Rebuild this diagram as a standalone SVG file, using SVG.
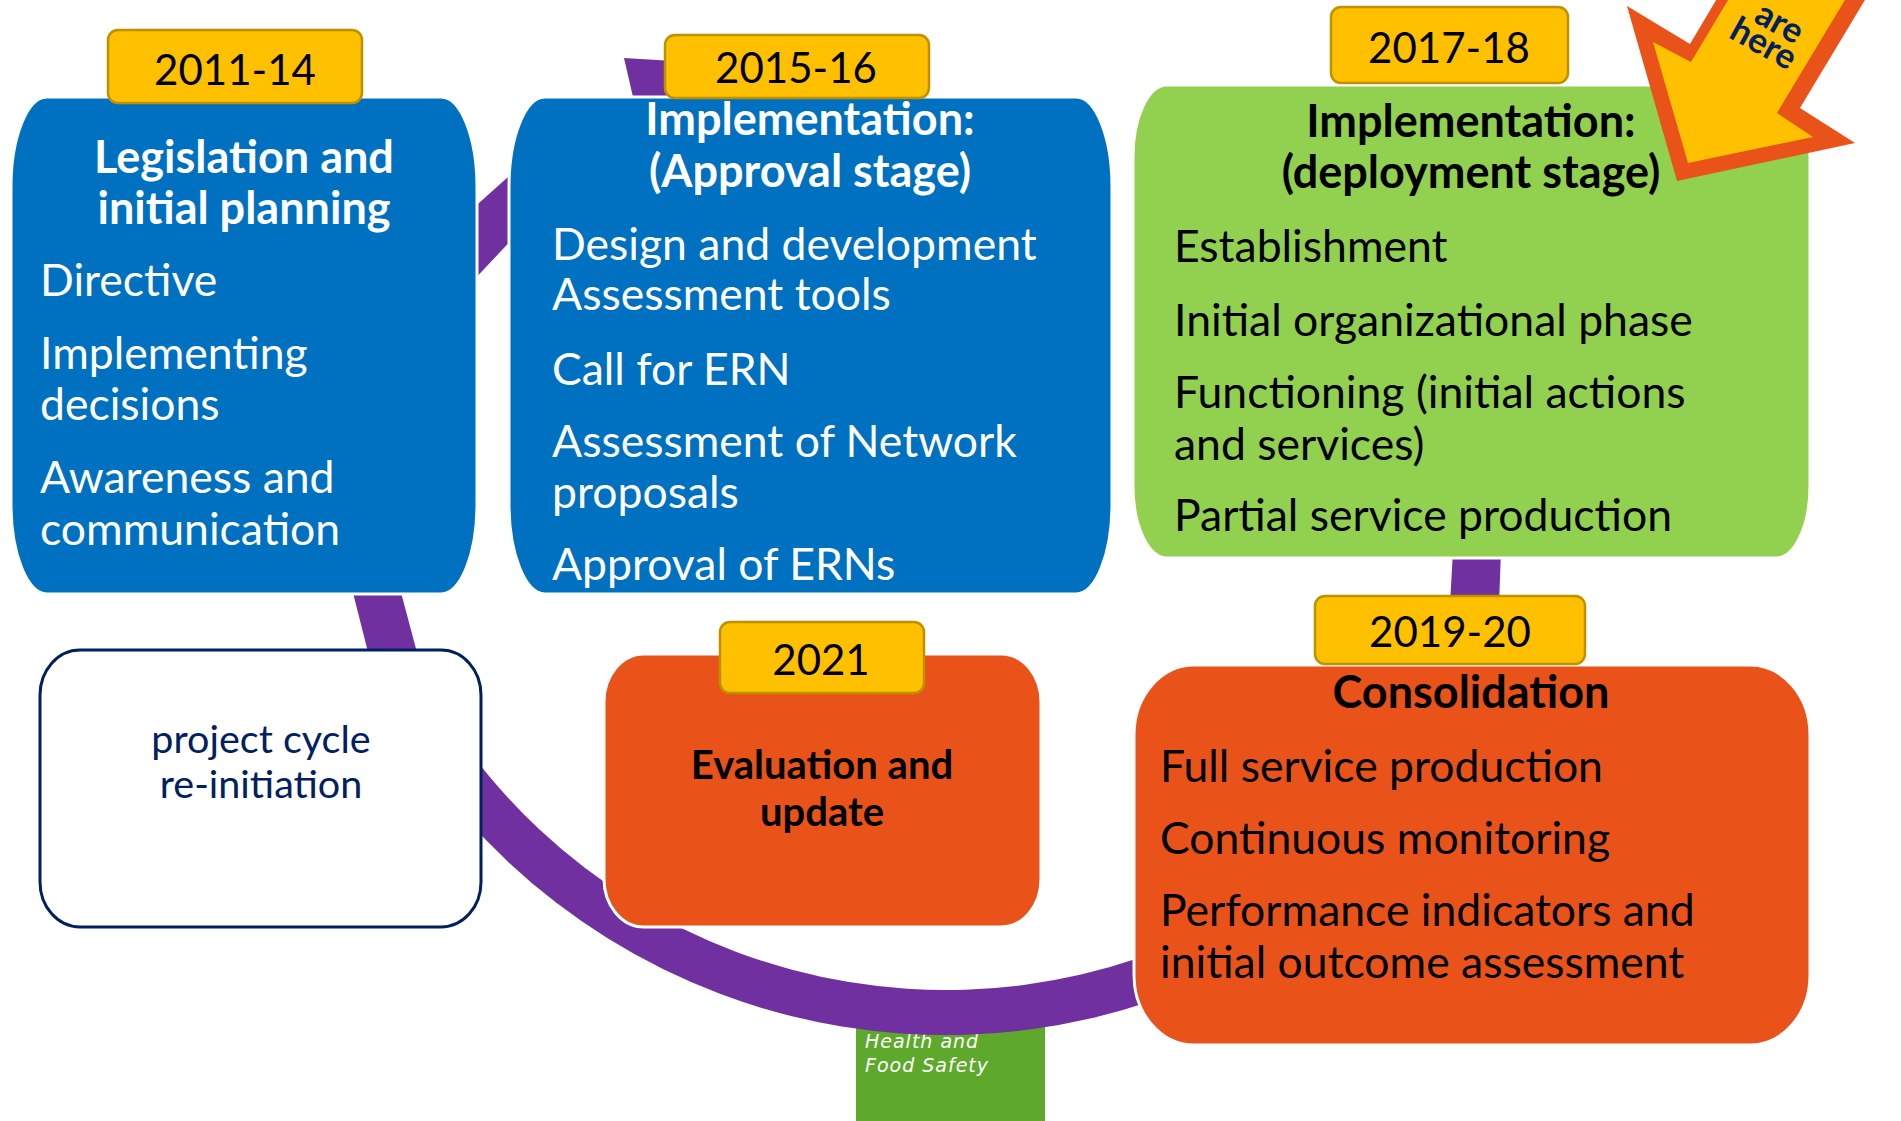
<svg xmlns="http://www.w3.org/2000/svg" width="1901" height="1121" viewBox="0 0 1901 1121">
<style>
text{font-family:Lato,"Liberation Sans",sans-serif}
.yr{font-size:42px;fill:#000;text-anchor:middle}
.hd{font-size:45px;font-weight:bold;text-anchor:middle}
.it{font-size:44.5px}
.w{fill:#fff}
.k{fill:#000}
.tab{fill:#FFC000;stroke:#BF9000;stroke-width:2.5}
.node{stroke:#fff;stroke-width:3}
.blue{fill:#0070C0}
.green{fill:#92D050}
.orange{fill:#E9531A}
.band{fill:#7030A0}
.pc{font-size:39.5px;fill:#002060;text-anchor:middle}
.ev{font-size:40px;font-weight:bold;fill:#000;text-anchor:middle}
.yah{font-size:35px;font-weight:bold;fill:#002060;text-anchor:middle}
.hfs{font-family:"DejaVu Sans",sans-serif;font-style:italic;font-size:19px;letter-spacing:1px;fill:#fff}
</style>
<rect width="1901" height="1121" fill="#fff"/>
<g id="hfs-logo">
<rect x="856" y="1000" width="189" height="121" fill="#5EA92C"/>
<text class="hfs" x="865" y="1048">Health and</text>
<text class="hfs" x="865" y="1072">Food Safety</text>
</g>
<g id="connectors">
<path class="band" d="M1266,949.3 A640,640 0 0 1 391.7,715 L430.7,692.5 A595,595 0 0 0 1243.5,910.3 Z"/>
<polygon class="band" points="351,585 399,585 419,660 370,660"/>
<polygon class="band" points="470,211 518,168 518,233 470,284"/>
<polygon class="band" points="624,58 690,62 690,110 636,110"/>
<polygon class="band" points="1453,550 1501,550 1499,605 1450,605"/>
</g>
<g id="n2011">
<rect class="node blue" x="11" y="97" width="466" height="497" rx="36" ry="90"/>
<rect class="tab" x="108" y="30" width="254" height="73" rx="10"/>
<text class="yr" x="235" y="85">2011-14</text>
<text class="hd w" x="244" y="173">Legislation and</text>
<text class="hd w" x="244" y="224">initial planning</text>
<text class="it w" x="40" y="296">Directive</text>
<text class="it w" x="40" y="369">Implementing</text>
<text class="it w" x="40" y="420">decisions</text>
<text class="it w" x="40" y="493">Awareness and</text>
<text class="it w" x="40" y="545">communication</text>
</g>
<g id="n2015">
<rect class="node blue" x="509" y="97" width="603" height="497" rx="36" ry="90"/>
<rect class="tab" x="665" y="35" width="264" height="63" rx="10"/>
<text class="yr" x="796" y="83">2015-16</text>
<text class="hd w" x="810" y="135">Implementation:</text>
<text class="hd w" x="810" y="187">(Approval stage)</text>
<text class="it w" x="552" y="260">Design and development</text>
<text class="it w" x="552" y="310">Assessment tools</text>
<text class="it w" x="552" y="385">Call for ERN</text>
<text class="it w" x="552" y="457">Assessment of Network</text>
<text class="it w" x="552" y="508">proposals</text>
<text class="it w" x="552" y="580">Approval of ERNs</text>
</g>
<g id="n2017">
<rect class="node green" x="1133" y="85" width="677" height="473" rx="34" ry="72"/>
<rect class="tab" x="1331" y="7" width="237" height="76" rx="10"/>
<text class="yr" x="1449" y="63">2017-18</text>
<text class="hd k" x="1471" y="137">Implementation:</text>
<text class="hd k" x="1471" y="188">(deployment stage)</text>
<text class="it k" x="1174" y="262">Establishment</text>
<text class="it k" x="1174" y="336">Initial organizational phase</text>
<text class="it k" x="1174" y="408">Functioning (initial actions</text>
<text class="it k" x="1174" y="460">and services)</text>
<text class="it k" x="1174" y="531">Partial service production</text>
</g>
<g id="n-reinit">
<rect x="40" y="650" width="441" height="277" rx="40" ry="45" fill="#fff" stroke="#002060" stroke-width="3"/>
<text class="pc" x="261" y="753">project cycle</text>
<text class="pc" x="261" y="798">re-initiation</text>
</g>
<g id="n2021">
<rect class="node orange" x="604" y="654" width="437" height="273" rx="40" ry="48"/>
<rect class="tab" x="720" y="622" width="204" height="71" rx="10"/>
<text class="yr" x="821" y="675">2021</text>
<text class="ev" x="822" y="779">Evaluation and</text>
<text class="ev" x="822" y="826">update</text>
</g>
<g id="n2019">
<rect class="node orange" x="1134" y="665" width="676" height="380" rx="60" ry="70"/>
<rect class="tab" x="1315" y="596" width="270" height="68" rx="10"/>
<text class="yr" x="1450" y="647">2019-20</text>
<text class="hd k" x="1471" y="708">Consolidation</text>
<text class="it k" x="1160" y="782">Full service production</text>
<text class="it k" x="1160" y="854">Continuous monitoring</text>
<text class="it k" x="1160" y="926">Performance indicators and</text>
<text class="it k" x="1160" y="978">initial outcome assessment</text>
</g>
<g id="you-are-here">
<polygon points="1627,6 1690,44 1734,-30 1883,-30 1800,108 1855,143 1677,181" fill="#E9531A"/>
<polygon points="1653,42 1691,62 1746,-30 1863,-30 1777,113 1813,137 1688,163" fill="#FFC000"/>
<text class="yah" transform="translate(1774,33) rotate(29)">are</text>
<text class="yah" transform="translate(1758,54) rotate(29)">here</text>
</g>
</svg>
